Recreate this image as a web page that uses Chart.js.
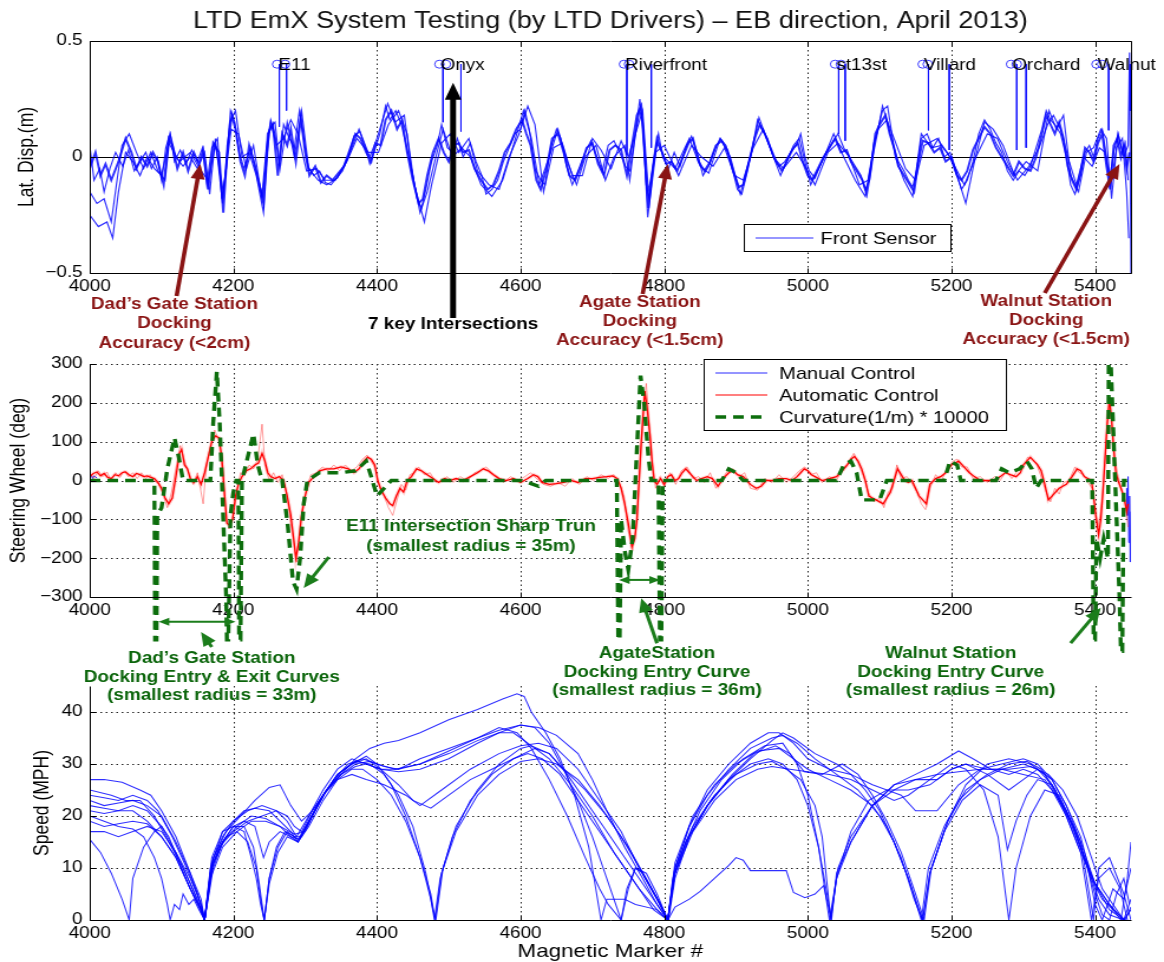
<!DOCTYPE html>
<html><head><meta charset="utf-8">
<script src="https://cdn.jsdelivr.net/npm/chart.js@4.4.1/dist/chart.umd.min.js"></script>
<style>
html,body{margin:0;padding:0;background:#fff;overflow:hidden}
#wrap{position:relative;width:1164px;height:962px;background:#fff}
canvas{position:absolute;left:0;top:0}
</style></head>
<body><div id="wrap">
<canvas id="cBot" width="986" height="962" style="width:1164px;height:962px"></canvas>
<canvas id="cMid" width="986" height="962" style="width:1164px;height:962px"></canvas>
<canvas id="cTop" width="986" height="962" style="width:1164px;height:962px"></canvas>
</div>
<script>
// ---------------- DATA ----------------
const xTicks = [4000,4200,4400,4600,4800,5000,5200,5400];
const latTicks = [-0.5,0,0.5];
const steerTicks = [-300,-200,-100,0,100,200,300];
const speedTicks = [0,10,20,30,40];

// Lateral displacement (front sensor), four overlapping runs
const latRunA = [[4000,-0.05],[4008,0.02],[4015,-0.08],[4022,-0.03],[4030,-0.1],[4040,-0.02],[4050,0.08],[4058,0.02],[4065,-0.05],[4072,0],[4080,-0.04],[4088,0.02],[4095,-0.02],[4103,-0.12],[4110,0.08],[4115,0.05],[4122,-0.05],[4130,0.02],[4137,-0.06],[4145,0.02],[4152,-0.03],[4158,0.03],[4165,-0.14],[4172,0.06],[4180,0.02],[4186,-0.24],[4192,0.05],[4198,0.18],[4203,0.12],[4210,-0.02],[4216,-0.08],[4222,0.05],[4230,-0.04],[4236,-0.12],[4242,-0.2],[4248,0.1],[4255,0.14],[4262,-0.08],[4268,0.1],[4275,0.05],[4280,0.12],[4287,-0.02],[4294,0.17],[4300,0.02],[4306,-0.08],[4314,-0.04],[4322,-0.11],[4330,-0.08],[4338,-0.1],[4346,-0.07],[4354,-0.04],[4362,0.03],[4370,0.1],[4377,0.08],[4385,0.02],[4392,-0.02],[4398,0.06],[4405,0.05],[4412,0.16],[4420,0.2],[4428,0.12],[4435,0.16],[4442,0.02],[4450,-0.1],[4458,-0.2],[4464,-0.18],[4470,-0.08],[4478,0.02],[4486,0.08],[4493,0.02],[4500,-0.02],[4507,0.05],[4514,0.06],[4520,0.02],[4528,0.03],[4536,-0.05],[4545,-0.1],[4554,-0.14],[4562,-0.12],[4570,-0.06],[4578,0.02],[4586,0.06],[4594,0.12],[4602,0.16],[4608,0.1],[4614,0.05],[4622,-0.1],[4628,-0.14],[4636,-0.05],[4644,0.08],[4652,0.1],[4660,0.02],[4668,-0.08],[4676,-0.1],[4684,-0.04],[4692,0.04],[4700,0.06],[4708,-0.03],[4716,-0.08],[4724,0.03],[4732,0.05],[4740,0.03],[4748,-0.08],[4755,0.05],[4762,0.18],[4768,0.22],[4773,0],[4778,-0.22],[4784,-0.05],[4790,0.08],[4796,0.03],[4803,-0.03],[4810,-0.02],[4818,-0.06],[4826,0],[4834,0.06],[4840,0.08],[4848,-0.02],[4856,-0.06],[4864,-0.02],[4872,0.05],[4880,0.07],[4888,0.03],[4896,-0.06],[4904,-0.13],[4910,-0.12],[4918,-0.02],[4926,0.08],[4933,0.14],[4940,0.1],[4948,0.04],[4956,-0.02],[4964,-0.06],[4972,-0.01],[4980,0.04],[4986,0.06],[4993,-0.02],[5000,-0.08],[5006,-0.1],[5014,-0.05],[5022,0],[5030,0.04],[5038,0.08],[5046,0.02],[5054,0.03],[5060,-0.02],[5068,-0.06],[5076,-0.1],[5082,-0.16],[5088,-0.05],[5094,0.1],[5100,0.14],[5108,0.18],[5114,0.1],[5120,0.04],[5126,-0.04],[5134,-0.08],[5142,-0.12],[5148,-0.15],[5154,-0.02],[5160,0.07],[5168,0.06],[5176,0.02],[5184,0.04],[5192,-0.02],[5200,0],[5208,-0.08],[5214,-0.1],[5222,-0.06],[5230,0.03],[5238,0.08],[5246,0.13],[5254,0.1],[5262,0.04],[5270,0],[5278,-0.04],[5286,-0.08],[5294,-0.02],[5302,-0.05],[5310,-0.06],[5318,0],[5326,0.1],[5332,0.18],[5338,0.14],[5344,0.1],[5350,0.15],[5356,0.08],[5362,-0.04],[5368,-0.1],[5374,-0.14],[5380,-0.06],[5386,0.04],[5392,0.02],[5398,-0.02],[5404,0.06],[5410,0.1],[5416,-0.04],[5421,-0.14],[5426,0.05],[5431,0.08],[5436,0],[5440,0.05],[5444,-0.05],[5448,0.02]];
const latRunB = [[4000,-0.15],[4010,-0.2],[4020,-0.18],[4030,-0.28],[4038,-0.1],[4045,0.05],[4055,0.1],[4065,0.02],[4075,-0.05],[4085,0.02],[4095,-0.06],[4105,-0.1],[4112,0.1],[4120,0],[4130,-0.04],[4140,0],[4150,-0.05],[4160,0.02],[4167,-0.16],[4175,0.08],[4185,-0.2],[4195,0.15],[4203,0.2],[4212,0],[4222,0.02],[4232,-0.08],[4242,-0.24],[4250,0.12],[4258,0.15],[4265,-0.05],[4275,0.15],[4285,0],[4295,0.2],[4305,-0.05],[4318,-0.1],[4330,-0.12],[4345,-0.09],[4360,0],[4375,0.12],[4390,0],[4400,0.08],[4415,0.23],[4425,0.15],[4438,0.18],[4448,-0.05],[4460,-0.24],[4470,-0.15],[4482,0],[4492,0.12],[4505,0],[4518,0.04],[4530,0],[4545,-0.12],[4560,-0.17],[4575,-0.1],[4590,0.05],[4604,0.2],[4615,0.08],[4626,-0.12],[4640,0],[4652,0.12],[4665,-0.02],[4678,-0.12],[4690,0],[4705,0.05],[4718,-0.1],[4730,0],[4745,0.05],[4752,-0.1],[4766,0.25],[4771,0.1],[4777,-0.26],[4790,0.06],[4800,0],[4815,-0.05],[4835,0.08],[4850,-0.04],[4862,-0.07],[4878,0.08],[4892,0],[4906,-0.16],[4920,0],[4932,0.17],[4945,0.06],[4962,-0.08],[4980,0.05],[4988,0.08],[5004,-0.12],[5020,-0.02],[5036,0.1],[5050,0],[5066,-0.1],[5080,-0.17],[5092,0.05],[5104,0.2],[5111,0.22],[5122,0],[5134,-0.1],[5146,-0.17],[5158,0.1],[5172,0.04],[5186,0.05],[5198,0],[5212,-0.12],[5220,-0.2],[5232,-0.02],[5246,0.15],[5258,0.12],[5272,0.05],[5288,-0.08],[5304,-0.02],[5320,-0.06],[5336,0.2],[5346,0.12],[5356,0.18],[5366,-0.08],[5377,-0.15],[5388,0.02],[5398,0.04],[5408,0.12],[5416,0.08],[5423,-0.18],[5432,0.1],[5440,0],[5446,0.05],[5448,0.45],[5450,-0.5]];
const latRunC = [[4000,-0.25],[4012,-0.3],[4024,-0.28],[4032,-0.35],[4040,-0.15],[4050,0.02],[4060,-0.02],[4070,-0.08],[4080,0],[4090,-0.05],[4100,-0.08],[4110,0.06],[4125,-0.02],[4140,0.02],[4155,-0.06],[4165,-0.1],[4175,0.05],[4186,-0.15],[4197,0.12],[4207,0.1],[4218,-0.05],[4228,0.05],[4240,-0.18],[4252,0.15],[4260,0.05],[4270,0.08],[4280,0.16],[4290,0.1],[4302,-0.06],[4316,-0.05],[4328,-0.1],[4342,-0.1],[4358,-0.02],[4372,0.08],[4388,0.02],[4402,0.02],[4416,0.14],[4430,0.2],[4442,0.1],[4452,-0.12],[4466,-0.28],[4476,-0.12],[4490,0.06],[4502,0.1],[4514,0.02],[4528,0.08],[4540,-0.06],[4556,-0.12],[4570,-0.14],[4584,0],[4598,0.1],[4610,0.22],[4620,0.14],[4632,-0.15],[4646,0.04],[4658,0.06],[4672,-0.08],[4686,-0.08],[4700,0.08],[4712,0.03],[4726,-0.05],[4740,0.07],[4750,0],[4762,0.12],[4770,0.2],[4778,-0.15],[4788,0.02],[4800,0.05],[4820,-0.08],[4838,0.05],[4852,0],[4868,-0.04],[4884,0.04],[4898,-0.08],[4910,-0.1],[4924,0.04],[4938,0.12],[4952,0],[4966,-0.05],[4984,0.02],[4998,-0.05],[5010,-0.12],[5028,0.02],[5042,0.06],[5058,0],[5072,-0.12],[5084,-0.1],[5098,0.12],[5110,0.16],[5120,0.08],[5136,-0.05],[5150,-0.1],[5162,0.05],[5180,0.08],[5194,0.02],[5208,-0.06],[5218,-0.12],[5234,0],[5250,0.1],[5264,0.08],[5278,-0.02],[5292,-0.1],[5308,-0.04],[5322,0.04],[5334,0.14],[5342,0.18],[5352,0.12],[5364,-0.02],[5374,-0.12],[5384,0],[5396,-0.04],[5406,0.04],[5414,0.02],[5422,-0.12],[5430,0.04],[5438,0.08],[5444,-0.15],[5447,-0.35]];
const latRunD = [[4000,0.05],[4006,-0.1],[4014,-0.05],[4020,-0.15],[4028,-0.05],[4036,0.02],[4046,-0.04],[4054,0.03],[4062,-0.06],[4070,-0.02],[4078,0.02],[4086,-0.05],[4094,0],[4100,-0.1],[4106,0.04],[4112,0.1],[4118,-0.02],[4126,0.03],[4134,-0.03],[4142,0.03],[4150,-0.02],[4157,0.04],[4163,-0.12],[4170,0.04],[4178,0.08],[4184,-0.18],[4190,-0.05],[4196,0.2],[4202,0.15],[4208,0.02],[4215,-0.05],[4224,0.04],[4232,-0.06],[4240,-0.16],[4246,0.04],[4252,0.16],[4258,0.1],[4264,-0.04],[4270,0.14],[4278,0.08],[4285,0.04],[4292,0.2],[4298,0.08],[4304,-0.04],[4312,-0.08],[4320,-0.06],[4328,-0.11],[4336,-0.12],[4344,-0.09],[4352,-0.06],[4360,0],[4368,0.09],[4376,0.11],[4384,0.04],[4390,-0.03],[4396,0.02],[4404,0.1],[4412,0.22],[4418,0.16],[4426,0.2],[4434,0.14],[4440,0.06],[4448,-0.05],[4456,-0.18],[4462,-0.22],[4468,-0.14],[4476,-0.02],[4484,0.05],[4490,0.14],[4498,0.04],[4506,0.02],[4512,0.08],[4520,0],[4530,0.06],[4538,-0.02],[4546,-0.08],[4552,-0.16],[4560,-0.14],[4568,-0.1],[4576,-0.02],[4584,0.04],[4592,0.1],[4600,0.12],[4606,0.2],[4612,0.12],[4620,-0.05],[4628,-0.1],[4634,-0.12],[4642,0.04],[4650,0.12],[4656,0.08],[4664,-0.04],[4672,-0.12],[4680,-0.06],[4690,0.02],[4698,0.07],[4706,0],[4714,-0.06],[4722,0.05],[4730,0.07],[4738,0.02],[4746,-0.04],[4752,-0.06],[4760,0.1],[4766,0.2],[4770,0.15],[4775,-0.12],[4779,-0.18],[4786,0],[4792,0.1],[4798,0],[4806,-0.05],[4814,0.02],[4822,-0.04],[4830,0.04],[4838,0.09],[4846,0.02],[4854,-0.08],[4862,-0.04],[4870,0.03],[4878,0.08],[4886,0.05],[4894,-0.04],[4902,-0.14],[4908,-0.16],[4916,-0.06],[4924,0.06],[4930,0.16],[4936,0.12],[4944,0.08],[4952,0],[4960,-0.04],[4968,-0.02],[4976,0.02],[4984,0.05],[4990,0.1],[4996,0],[5002,-0.06],[5010,-0.09],[5018,-0.03],[5026,0.02],[5034,0.06],[5042,0.1],[5050,0.04],[5058,0],[5066,-0.04],[5074,-0.08],[5080,-0.14],[5086,-0.1],[5092,0.06],[5098,0.12],[5104,0.22],[5110,0.16],[5118,0.06],[5126,-0.02],[5134,-0.06],[5140,-0.1],[5146,-0.13],[5152,-0.05],[5158,0.08],[5166,0.1],[5174,0.04],[5182,0.08],[5190,0],[5198,0.02],[5206,-0.06],[5214,-0.14],[5222,-0.1],[5230,-0.02],[5238,0.1],[5246,0.16],[5254,0.12],[5262,0.06],[5270,0.02],[5278,-0.06],[5286,-0.1],[5294,-0.06],[5302,-0.08],[5310,-0.04],[5318,0.04],[5326,0.12],[5332,0.2],[5338,0.16],[5344,0.14],[5352,0.1],[5360,0],[5366,-0.12],[5372,-0.16],[5380,-0.08],[5386,0.02],[5392,0.05],[5398,0],[5404,0.08],[5410,0.12],[5416,0],[5420,-0.1],[5426,0.02],[5432,0.1],[5438,0.02],[5442,0.06],[5446,-0.1]];

// Stations (top panel)
const stationNames = ["E11","Onyx","Riverfront","st13st","Villard","Orchard","Walnut"];
const stationCircleA = [4261,4487,4744,5038,5160,5283,5402];
const stationCircleB = [4272,4496,4751,5046,5167,5291,5410];
const stationLineA = [4264,4492,4748,5043,5168,5291,5419];
const stationLineAEnd = [0.13,0.15,0.01,0.1,0.115,0.03,0.115];
const stationLineB = [4274,4517,4782,5052,5197,5304,5449];
const stationLineBEnd = [0.2,0.11,0.04,0.07,0.03,0.04,0.2];
const stationLevel = 0.4;

// Steering wheel (middle panel)
const steerAuto = [[4000,10],[4005,18],[4010,22],[4015,12],[4020,18],[4025,8],[4030,5],[4035,15],[4040,12],[4045,20],[4050,22],[4055,14],[4060,10],[4065,18],[4070,15],[4075,10],[4080,12],[4085,8],[4090,5],[4095,-5],[4100,-20],[4105,-45],[4110,-60],[4115,-45],[4120,10],[4125,70],[4128,80],[4132,40],[4136,30],[4140,5],[4145,-5],[4150,10],[4155,-10],[4160,20],[4165,60],[4170,100],[4175,115],[4180,110],[4184,60],[4188,-40],[4191,-110],[4195,-115],[4199,-100],[4203,-40],[4207,-10],[4212,10],[4218,25],[4224,30],[4230,40],[4235,45],[4240,70],[4244,50],[4248,20],[4252,10],[4258,5],[4264,10],[4270,0],[4275,-40],[4280,-90],[4284,-150],[4287,-200],[4291,-160],[4295,-90],[4300,-40],[4305,-5],[4312,10],[4320,25],[4330,30],[4340,30],[4350,35],[4360,30],[4368,20],[4375,30],[4382,50],[4387,60],[4392,55],[4397,40],[4401,0],[4406,-25],[4412,-45],[4418,-60],[4422,-65],[4427,-40],[4432,-20],[4437,-30],[4442,0],[4448,10],[4455,30],[4462,25],[4470,15],[4478,5],[4486,-5],[4494,5],[4502,0],[4510,5],[4520,0],[4530,10],[4540,20],[4548,30],[4555,25],[4562,15],[4570,5],[4580,0],[4590,5],[4600,-5],[4610,5],[4618,15],[4624,10],[4630,-5],[4640,-10],[4650,-8],[4660,-5],[4670,0],[4680,-5],[4690,5],[4700,5],[4710,8],[4720,10],[4728,12],[4735,5],[4740,-20],[4745,-60],[4750,-110],[4755,-170],[4759,-150],[4762,-100],[4765,0],[4768,100],[4771,180],[4773,230],[4776,190],[4780,120],[4783,50],[4786,0],[4790,-10],[4795,5],[4800,-10],[4805,10],[4810,15],[4815,0],[4820,5],[4825,20],[4830,30],[4835,20],[4840,10],[4845,0],[4852,5],[4860,10],[4867,5],[4875,-15],[4882,5],[4890,20],[4896,25],[4902,15],[4910,10],[4920,-10],[4928,-20],[4935,-15],[4942,0],[4950,0],[4960,5],[4970,5],[4978,0],[4985,10],[4990,20],[4995,30],[5000,25],[5005,15],[5010,10],[5020,0],[5030,5],[5040,10],[5048,25],[5055,40],[5060,55],[5065,62],[5070,50],[5075,30],[5080,0],[5085,-40],[5090,-45],[5095,-50],[5100,-55],[5105,-60],[5110,-45],[5115,-30],[5120,0],[5125,30],[5130,15],[5135,0],[5140,-5],[5145,0],[5150,-20],[5155,-40],[5160,-50],[5165,-60],[5170,-10],[5178,5],[5185,10],[5192,20],[5200,40],[5205,45],[5210,50],[5215,40],[5220,30],[5225,20],[5232,10],[5240,0],[5250,0],[5260,0],[5268,10],[5275,20],[5282,15],[5290,10],[5296,20],[5300,40],[5305,50],[5310,60],[5315,50],[5320,40],[5325,25],[5330,-10],[5335,-50],[5340,-40],[5345,-30],[5350,-20],[5355,-15],[5360,-10],[5368,10],[5375,30],[5380,25],[5385,10],[5390,5],[5395,0],[5398,-40],[5401,-90],[5405,-140],[5408,-100],[5411,-30],[5414,60],[5417,150],[5420,210],[5423,160],[5426,80],[5429,20],[5432,0],[5436,-20],[5440,-40],[5444,-80],[5446,-60]];
const steerAuto2 = [[4000,20],[4006,5],[4012,25],[4018,10],[4024,22],[4030,0],[4036,20],[4042,8],[4048,25],[4054,10],[4060,20],[4066,5],[4072,20],[4078,5],[4084,15],[4090,0],[4096,-10],[4102,-35],[4108,-70],[4114,-30],[4120,30],[4126,90],[4132,50],[4138,20],[4144,-10],[4150,20],[4154,-20],[4158,-60],[4162,30],[4168,90],[4174,130],[4180,100],[4186,0],[4190,-100],[4194,-125],[4200,-90],[4205,-30],[4210,20],[4216,15],[4222,40],[4228,30],[4234,55],[4240,145],[4244,40],[4250,0],[4256,20],[4262,-5],[4268,15],[4274,-30],[4280,-110],[4285,-170],[4288,-210],[4292,-130],[4297,-60],[4302,-20],[4308,15],[4316,20],[4324,35],[4332,25],[4340,40],[4348,25],[4356,40],[4364,25],[4372,35],[4380,55],[4386,65],[4392,50],[4398,30],[4404,-20],[4410,-40],[4416,-70],[4422,-90],[4428,-50],[4434,-10],[4440,-25],[4446,15],[4452,20],[4458,35],[4466,15],[4474,20],[4482,-5],[4490,0],[4498,10],[4506,-5],[4516,10],[4526,0],[4536,20],[4544,25],[4552,35],[4560,20],[4568,10],[4576,-5],[4586,10],[4596,0],[4606,10],[4614,20],[4622,5],[4632,-10],[4642,-15],[4652,-5],[4662,-15],[4672,5],[4682,-10],[4692,10],[4702,0],[4712,15],[4722,5],[4730,15],[4738,-10],[4744,-40],[4750,-130],[4756,-180],[4762,-110],[4767,50],[4772,200],[4775,250],[4779,150],[4784,40],[4788,-20],[4794,10],[4800,-15],[4808,20],[4816,-10],[4824,25],[4832,35],[4840,5],[4848,10],[4856,-5],[4864,20],[4872,-20],[4880,0],[4888,25],[4896,30],[4904,10],[4912,20],[4920,-20],[4930,-25],[4940,5],[4950,-5],[4960,15],[4970,-5],[4980,10],[4988,25],[4996,35],[5004,15],[5012,20],[5020,-5],[5030,10],[5040,0],[5048,30],[5056,45],[5064,70],[5070,45],[5078,10],[5084,-30],[5092,-55],[5100,-45],[5106,-70],[5112,-30],[5118,-20],[5124,40],[5130,5],[5138,10],[5146,-10],[5152,-30],[5158,-60],[5164,-75],[5170,-20],[5178,15],[5186,0],[5194,30],[5202,50],[5208,55],[5214,35],[5222,35],[5230,5],[5240,10],[5250,-5],[5260,10],[5268,0],[5276,25],[5284,5],[5292,25],[5300,30],[5306,60],[5312,55],[5318,45],[5324,15],[5332,-30],[5338,-55],[5344,-20],[5350,-35],[5356,-5],[5364,0],[5372,35],[5378,20],[5384,15],[5390,-5],[5396,-20],[5400,-70],[5404,-120],[5408,-80],[5412,0],[5416,120],[5420,190],[5424,130],[5428,50],[5432,10],[5438,-30],[5442,-50],[5446,-120]];
const steerManualStart = [[4000,8],[4002,14],[4004,5],[4006,12],[4008,10],[4010,6]];
const steerManualEnd = [[5444,-20],[5445,-90],[5446,10],[5447,-160],[5448,-40],[5449,-210],[5450,-80]];
const curvature = [[4000,0],[4090,0],[4091,-410],[4093,-410],[4094,-90],[4100,-70],[4108,30],[4118,110],[4124,60],[4130,0],[4168,0],[4172,150],[4177,280],[4181,150],[4186,-100],[4190,-300],[4191,-410],[4193,-410],[4196,-90],[4200,-30],[4204,0],[4207,0],[4208,-410],[4210,-410],[4212,0],[4220,60],[4228,120],[4234,40],[4240,0],[4268,0],[4276,-120],[4283,-260],[4288,-280],[4293,-200],[4298,-60],[4303,0],[4320,20],[4350,20],[4370,25],[4385,50],[4392,10],[4400,-40],[4410,-20],[4420,0],[4600,0],[4610,-5],[4625,-15],[4635,0],[4734,0],[4736,-410],[4738,-410],[4740,-100],[4745,-180],[4750,-230],[4756,-150],[4762,80],[4767,270],[4772,200],[4778,60],[4782,0],[4792,0],[4794,-410],[4796,-410],[4798,0],[4880,0],[4890,30],[4900,20],[4910,0],[5040,0],[5050,40],[5060,50],[5068,20],[5075,-50],[5100,-50],[5110,0],[5190,0],[5198,50],[5208,40],[5213,0],[5262,0],[5270,30],[5280,20],[5295,30],[5305,50],[5312,30],[5318,-20],[5325,0],[5360,0],[5396,0],[5398,-410],[5400,-410],[5402,-150],[5407,-200],[5412,-150],[5418,-200],[5419,300],[5422,300],[5428,0],[5434,-300],[5436,-440],[5438,-440],[5440,0],[5450,0]];

// Speed (bottom panel), ten runs
const speedRun1 = [[4000,27],[4020,27],[4045,26.5],[4070,25],[4085,24],[4100,21],[4120,16],[4140,9],[4155,3],[4160,0],[4168,9],[4180,14],[4200,17],[4220,19],[4240,20],[4260,21],[4275,20],[4285,18],[4295,17],[4310,21],[4330,25],[4350,28],[4370,31],[4390,33],[4410,34],[4430,34.5],[4460,36],[4500,38.5],[4540,40.5],[4575,42.5],[4595,43.5],[4605,43],[4615,40],[4635,36],[4655,31],[4675,24],[4695,14],[4712,0],[4720,4],[4745,4],[4760,3],[4790,2],[4805,0],[4815,9],[4830,15],[4850,21],[4880,27],[4910,31],[4940,33.5],[4965,34],[4985,30],[5000,24],[5015,14],[5030,0],[5040,8],[5060,15],[5090,22],[5120,26],[5150,27],[5180,27],[5200,29],[5220,30],[5250,28],[5280,25],[5300,27],[5320,29],[5340,27],[5360,22],[5380,15],[5400,7],[5420,2],[5440,0],[5450,4]];
const speedRun2 = [[4000,25],[4030,24],[4050,23],[4070,23],[4090,20],[4110,15],[4130,10],[4150,4],[4160,0],[4170,11],[4185,17],[4200,19],[4215,21],[4230,21.5],[4250,21],[4265,19],[4280,17],[4290,15],[4305,19],[4325,24],[4345,28],[4365,30],[4385,31.5],[4400,30],[4420,26],[4440,20],[4460,12],[4475,4],[4480,0],[4488,8],[4505,16],[4530,23],[4560,28],[4590,31],[4620,33],[4640,32],[4660,29],[4690,25],[4720,20],[4750,14],[4775,8],[4795,3],[4805,0],[4812,8],[4830,15],[4860,22],[4890,27],[4920,31],[4950,34.5],[4965,36],[4980,35],[5010,32],[5040,30],[5060,28],[5080,25],[5100,21],[5120,15],[5140,8],[5158,0],[5168,10],[5190,18],[5210,23],[5240,27],[5270,29],[5300,30],[5320,29],[5340,26],[5360,20],[5380,13],[5400,7],[5420,3],[5440,0]];
const speedRun3 = [[4000,15.5],[4015,13],[4030,9],[4045,4],[4055,0],[4060,8],[4075,14],[4090,17],[4100,18],[4110,16],[4125,11],[4140,6],[4155,2],[4160,0],[4170,12],[4185,17],[4200,18],[4215,19],[4230,18],[4242,12],[4250,15],[4265,17],[4280,16],[4290,15],[4305,18],[4325,23],[4345,27],[4365,29],[4380,29],[4400,27],[4420,24],[4440,19],[4460,12],[4475,5],[4481,0],[4490,9],[4510,17],[4540,24],[4570,28],[4600,30.5],[4625,31],[4650,30],[4680,27],[4710,22],[4740,16],[4770,9],[4795,3],[4805,0],[4815,10],[4840,18],[4870,24],[4900,28],[4930,30],[4950,30.5],[4970,29],[4990,27],[5010,22],[5020,16],[5032,0],[5042,10],[5060,16],[5090,22],[5120,25],[5150,27],[5180,28],[5210,28.5],[5240,29],[5270,30],[5300,31],[5320,30],[5340,27],[5360,22],[5380,16],[5395,8],[5410,4],[5425,2],[5442,0],[5450,2.5]];
const speedRun4 = [[4000,20],[4020,19],[4040,18],[4060,17.5],[4075,16],[4090,12],[4100,8],[4108,3],[4112,0],[4118,3],[4125,2],[4130,5],[4138,3],[4145,4],[4152,2],[4160,0],[4172,10],[4185,15],[4200,18],[4215,17],[4225,12],[4232,8],[4238,3],[4243,0],[4250,8],[4260,14],[4272,17],[4285,16],[4295,16],[4310,20],[4330,25],[4350,28],[4370,30],[4390,30.5],[4410,29.5],[4430,29],[4460,30],[4500,32.5],[4540,35],[4570,36.5],[4600,37.5],[4620,37],[4640,34],[4660,29],[4680,23],[4700,16],[4720,8],[4740,0],[4750,6],[4760,10],[4775,9],[4790,5],[4805,0],[4815,11],[4840,20],[4870,26],[4900,30],[4930,32.5],[4960,33],[4980,31],[5000,29],[5030,27],[5060,25],[5090,22],[5110,18],[5130,12],[5148,4],[5160,0],[5170,9],[5190,17],[5215,23],[5240,26],[5265,24],[5278,13.5],[5290,19],[5305,24],[5320,27],[5340,26],[5360,21],[5380,14],[5400,7],[5420,3],[5436,0],[5445,8],[5450,15]];
const speedRun5 = [[4000,17],[4020,17],[4040,16],[4060,17],[4080,18],[4100,17],[4120,13],[4140,8],[4155,3],[4160,0],[4172,11],[4190,16],[4205,17],[4220,15],[4232,10],[4238,4],[4243,0],[4250,7],[4262,13],[4275,16],[4290,15],[4305,19],[4325,24],[4345,28],[4365,30],[4385,31],[4405,29],[4430,26],[4450,23],[4475,21.5],[4500,24],[4530,27],[4560,29],[4590,31],[4610,32],[4630,31],[4655,28],[4680,23],[4710,17],[4740,11],[4765,6],[4790,2],[4805,0],[4815,2.5],[4835,4],[4850,5.5],[4870,8],[4890,10.5],[4900,12],[4910,11.5],[4920,9.5],[4945,9.5],[4970,9.5],[4980,5.3],[4996,4.3],[5010,5],[5022,6.6],[5032,0.5],[5040,8],[5060,17],[5085,23],[5110,25],[5130,24],[5150,21],[5180,21],[5210,26],[5240,29],[5270,29],[5300,28],[5330,27],[5360,21],[5380,15],[5398,0],[5405,10],[5420,12],[5440,5],[5450,0]];
const speedRun6 = [[4000,22],[4020,21.5],[4040,21],[4060,22],[4080,21],[4100,18],[4120,13],[4140,7],[4155,2],[4160,0],[4168,8],[4185,14],[4205,17],[4225,19],[4245,19],[4265,18],[4280,16],[4292,15.5],[4310,20],[4330,25],[4350,28.5],[4370,30.5],[4390,30],[4410,28],[4430,24],[4450,18],[4468,9],[4478,2],[4482,0],[4492,10],[4510,18],[4540,25],[4570,30],[4600,33],[4615,33.5],[4640,32],[4665,28],[4690,23],[4720,17],[4750,11],[4780,5],[4800,1],[4806,0],[4815,8],[4835,16],[4865,23],[4895,28],[4925,32],[4955,33.5],[4975,32],[4995,28.5],[5020,28],[5048,30],[5070,28],[5090,24],[5110,19],[5130,13],[5150,5],[5162,0],[5172,10],[5195,19],[5220,25],[5250,28],[5280,30],[5305,30.5],[5325,29],[5345,25],[5365,19],[5385,12],[5400,5],[5410,1],[5420,0],[5430,5],[5440,8],[5448,3]];
const speedRun7 = [[4000,24],[4020,23.5],[4040,23],[4060,24],[4080,23],[4095,21],[4115,16],[4135,10],[4150,5],[4160,0],[4170,11],[4185,16],[4200,19],[4220,21],[4240,22],[4260,21],[4275,19],[4288,16],[4305,20],[4325,25],[4345,29],[4365,31],[4385,30],[4405,29],[4430,28.5],[4460,29],[4500,31],[4540,34],[4570,36],[4600,37.5],[4625,37],[4650,35.5],[4680,32],[4700,27],[4720,21],[4745,14],[4770,8],[4790,3],[4805,0],[4815,10],[4835,18],[4860,24],[4890,29],[4920,33],[4950,35],[4965,35.5],[4985,34],[5010,31],[5040,28],[5070,25],[5100,20],[5120,15],[5140,8],[5155,2],[5160,0],[5170,9],[5195,19],[5220,26],[5250,30],[5280,31],[5310,30],[5330,28],[5350,23],[5370,18],[5390,10],[5405,4],[5420,1],[5440,0]];
const speedRun8 = [[4000,21],[4020,20.5],[4040,21],[4060,21],[4080,19],[4100,16],[4120,12],[4140,6],[4155,2],[4160,0],[4172,12],[4190,17],[4210,20],[4230,23],[4250,25.5],[4265,26],[4280,22],[4295,19],[4310,21],[4330,25],[4350,28],[4370,29.5],[4385,30],[4405,29],[4430,29],[4460,31],[4500,33],[4540,35],[4570,37],[4595,36],[4615,33],[4640,27],[4665,20],[4690,12],[4710,6],[4722,3],[4740,0],[4748,6],[4760,10],[4770,9],[4790,4],[4805,0],[4815,9],[4835,16],[4860,22],[4890,27],[4920,30],[4945,31],[4965,30],[4985,27],[5000,22],[5015,14],[5028,4],[5033,0],[5040,9],[5060,15],[5090,22],[5120,26],[5150,28],[5180,30],[5210,32.5],[5230,31],[5255,29],[5280,28],[5300,29],[5320,28],[5340,25],[5360,20],[5380,13],[5395,0],[5405,8],[5420,10],[5435,6],[5445,0]];
const speedRun9 = [[4000,19],[4020,18],[4040,18.5],[4060,19],[4080,18.5],[4100,16],[4120,12],[4140,6],[4160,0],[4170,10],[4185,15],[4200,18],[4215,18],[4228,14],[4236,7],[4243,0],[4250,8],[4262,14],[4275,17],[4290,15.5],[4305,19],[4325,24],[4345,27],[4365,28],[4385,27],[4410,26],[4440,24],[4460,22],[4490,25],[4530,29],[4570,32],[4600,33.5],[4625,34],[4650,33],[4680,29],[4710,23],[4740,17],[4765,10],[4790,4],[4805,0],[4815,9],[4840,17],[4870,23],[4900,27],[4930,29],[4950,29.5],[4975,29],[5000,28.5],[5030,28],[5060,27],[5090,25],[5120,23],[5140,24],[5170,27],[5200,30],[5220,29],[5245,25],[5265,16],[5280,0],[5290,10],[5310,20],[5330,25],[5350,24],[5370,18],[5390,10],[5400,3],[5410,0],[5425,6],[5440,4],[5450,10]];
const speedRun10 = [[4000,23],[4020,22],[4040,22.5],[4060,23],[4080,22],[4100,20],[4120,15],[4140,9],[4155,4],[4160,0],[4168,10],[4185,15],[4205,18],[4225,20],[4245,19.5],[4265,18],[4285,16.5],[4300,17],[4320,23],[4340,27],[4360,30],[4380,31],[4400,30],[4425,29],[4460,30],[4500,32],[4540,34.5],[4570,36],[4590,36],[4610,34],[4640,31],[4670,26],[4700,20],[4730,13],[4760,7],[4785,2],[4805,0],[4815,10],[4835,18],[4860,25],[4890,30],[4920,34],[4945,36],[4960,36],[4980,34],[5000,31],[5030,29],[5060,28],[5090,26],[5110,25],[5140,25],[5170,26],[5200,29],[5220,30],[5250,29],[5280,29],[5310,29.5],[5335,28],[5355,25],[5375,20],[5395,12],[5410,6],[5425,3],[5440,0],[5450,2]];

// Texts
const mainTitle = "LTD EmX System Testing (by LTD Drivers) \u2013 EB direction, April 2013)";
const topNotes = [
  {lines:["Dad\u2019s Gate Station","Docking","Accuracy (<2cm)"], x:4118, ys:[305,324,344], color:"#8a1414"},
  {lines:["7 key Intersections"], x:4506, ys:[325], color:"#000000"},
  {lines:["Agate Station","Docking","Accuracy (<1.5cm)"], x:4766, ys:[303,322,341], color:"#8a1414"},
  {lines:["Walnut Station","Docking","Accuracy (<1.5cm)"], x:5332, ys:[302,321,340], color:"#8a1414"}
];
const topArrows = [
  {tail:[4121,296], tip:[4154,-0.03], color:"#8a1414", w:3.6, hl:15, hw:6},
  {tail:[4506,318], tip:[4506,0.32], color:"#000000", w:5, hl:17, hw:7},
  {tail:[4770,294], tip:[4805,-0.03], color:"#8a1414", w:3.6, hl:15, hw:6},
  {tail:[5330,293], tip:[5434,-0.03], color:"#8a1414", w:3.6, hl:15, hw:6}
];
const midNotes = [
  {lines:["E11 Intersection Sharp Trun","(smallest radius = 35m)"], x:4531, ys:[527,547]},
  {lines:["Dad\u2019s Gate Station","Docking Entry & Exit Curves","(smallest radius = 33m)"], x:4170, ys:[659,678,696]},
  {lines:["AgateStation","Docking Entry Curve","(smallest radius = 36m)"], x:4790, ys:[654,673,691]},
  {lines:["Walnut Station","Docking Entry Curve","(smallest radius = 26m)"], x:5199, ys:[654,673,691]}
];
const midArrows = [
  {tail:[4333,-197], tip:[4298,-277], both:false},
  {tail:[4170,-429], tip:[4155,-390], both:false},
  {tail:[4790,-419], tip:[4768,-303], both:false},
  {tail:[5366,-419], tip:[5408,-328], both:false},
  {tail:[4096,-364], tip:[4203,-364], both:true},
  {tail:[4737,-256], tip:[4794,-256], both:true}
];

// ---------------- HELPERS ----------------
const FONT = "'Liberation Sans', Arial, Helvetica, sans-serif";
Chart.defaults.font.family = FONT;
Chart.defaults.color = '#000';
const PL = 76, PR = 28, W = 986, H = 962;
const GREEN_TXT = '#0b650b', GREEN_LN = '#0d6e0d';
const BLUE = 'rgba(0,0,255,0.82)';

function pts(arr){ return arr.map(p => ({x:p[0], y:p[1]})); }
function fmtNum(v){ if (v === 0) return '0'; return v < 0 ? '\u2212' + String(Math.abs(v)) : String(v); }

function xScale(){
  return {type:'linear', min:4000, max:5450,
    ticks:{stepSize:200, includeBounds:false, autoSkip:false, maxRotation:0, padding:4, color:'#000', font:{size:16}, callback:v=>String(v)},
    grid:{display:false, drawTicks:false}, border:{display:false},
    afterFit(s){ s.height = 30; }};
}
function yScale(min, max, step){
  return {type:'linear', min:min, max:max,
    ticks:{stepSize:step, includeBounds:false, autoSkip:false, padding:6, color:'#000', font:{size:16}, callback:v=>fmtNum(v)},
    grid:{display:false, drawTicks:false}, border:{display:false},
    afterFit(s){ s.width = PL; }};
}
function drawGrid(chart, xs, ys){
  const ctx = chart.ctx, a = chart.chartArea, sx = chart.scales.x, sy = chart.scales.y;
  ctx.save(); ctx.strokeStyle = '#222'; ctx.lineWidth = 1; ctx.setLineDash([1.5,3]);
  xs.forEach(v => { const p = Math.round(sx.getPixelForValue(v)) + 0.5; ctx.beginPath(); ctx.moveTo(p, a.top); ctx.lineTo(p, a.bottom); ctx.stroke(); });
  ys.forEach(v => { const p = Math.round(sy.getPixelForValue(v)) + 0.5; ctx.beginPath(); ctx.moveTo(a.left, p); ctx.lineTo(a.right, p); ctx.stroke(); });
  ctx.restore();
}
function drawFrame(chart, box, xs, ys){
  const ctx = chart.ctx, a = chart.chartArea, sx = chart.scales.x, sy = chart.scales.y;
  ctx.save(); ctx.strokeStyle = '#000'; ctx.lineWidth = 1; ctx.setLineDash([]);
  const L = Math.round(a.left) + 0.5, B = Math.round(a.bottom) + 0.5, T = Math.round(a.top) + 0.5, R = Math.round(a.right) + 0.5;
  ctx.beginPath(); ctx.moveTo(L, T); ctx.lineTo(L, B); ctx.lineTo(R, B);
  if (box) { ctx.lineTo(R, T); ctx.lineTo(L, T); }
  ctx.stroke();
  const tl = 5;
  xs.forEach(v => { const p = Math.round(sx.getPixelForValue(v)) + 0.5; ctx.beginPath(); ctx.moveTo(p, B); ctx.lineTo(p, B - tl); if (box) { ctx.moveTo(p, T); ctx.lineTo(p, T + tl); } ctx.stroke(); });
  ys.forEach(v => { const p = Math.round(sy.getPixelForValue(v)) + 0.5; ctx.beginPath(); ctx.moveTo(L, p); ctx.lineTo(L + tl, p); if (box) { ctx.moveTo(R, p); ctx.lineTo(R - tl, p); } ctx.stroke(); });
  ctx.restore();
}
function arrow(ctx, x1, y1, x2, y2, color, w, hl, hw, both){
  const a = Math.atan2(y2 - y1, x2 - x1), c = Math.cos(a), s = Math.sin(a);
  ctx.save(); ctx.strokeStyle = color; ctx.fillStyle = color; ctx.lineWidth = w; ctx.setLineDash([]);
  const head = (x, y, cc, ss) => { ctx.beginPath(); ctx.moveTo(x, y); ctx.lineTo(x - hl*cc + hw*ss, y - hl*ss - hw*cc); ctx.lineTo(x - hl*cc - hw*ss, y - hl*ss + hw*cc); ctx.closePath(); ctx.fill(); };
  let sx1 = x1, sy1 = y1; const ex = x2 - hl*0.8*c, ey = y2 - hl*0.8*s;
  if (both) { sx1 = x1 + hl*0.8*c; sy1 = y1 + hl*0.8*s; }
  ctx.beginPath(); ctx.moveTo(sx1, sy1); ctx.lineTo(ex, ey); ctx.stroke();
  head(x2, y2, c, s); if (both) head(x1, y1, -c, -s);
  ctx.restore();
}
function vText(ctx, text, x, y, size){
  ctx.save(); ctx.translate(x, y); ctx.rotate(-Math.PI/2); ctx.font = size + 'px ' + FONT; ctx.fillStyle = '#000';
  ctx.textAlign = 'center'; ctx.textBaseline = 'middle'; ctx.fillText(text, 0, 0); ctx.restore();
}
function baseOptions(padTop, padBottom, ymin, ymax, ystep){
  return {responsive:false, animation:false, devicePixelRatio:1, events:[],
    layout:{padding:{left:0, right:PR, top:padTop, bottom:padBottom}},
    plugins:{legend:{display:false}, tooltip:{enabled:false}, title:{display:false}},
    elements:{point:{radius:0}, line:{tension:0}},
    scales:{x:xScale(), y:yScale(ymin, ymax, ystep)}};
}
const gridX = xTicks.filter(v => v !== 4000);

// ---------------- TOP CHART ----------------
const topSets = [];
[latRunA, latRunB, latRunC, latRunD].forEach((r, i) => topSets.push({data:pts(r), showLine:true, borderColor:BLUE, borderWidth: i === 0 ? 1.9 : 1.15, pointRadius:0}));
stationNames.forEach((n, i) => {
  topSets.push({data:[{x:stationLineA[i], y:stationLevel},{x:stationLineA[i], y:stationLineAEnd[i]}], showLine:true, borderColor:'#1010ff', borderWidth:1, pointRadius:0});
  topSets.push({data:[{x:stationLineB[i], y:stationLevel},{x:stationLineB[i], y:stationLineBEnd[i]}], showLine:true, borderColor:'#1010ff', borderWidth:1, pointRadius:0});
});
const circlePts = [];
stationNames.forEach((n, i) => { circlePts.push({x:stationCircleA[i], y:stationLevel}); circlePts.push({x:stationCircleB[i], y:stationLevel}); });
topSets.push({data:circlePts, showLine:false, pointRadius:4, pointStyle:'circle', borderColor:'#3a3aff', backgroundColor:'rgba(0,0,0,0)', borderWidth:1});

const topOpts = baseOptions(41, H - 273 - 30, -0.5, 0.5, 0.5);
new Chart(document.getElementById('cTop'), {type:'scatter', data:{datasets:topSets}, options:topOpts,
  plugins:[{id:'topDeco',
    beforeDatasetsDraw(chart){
      drawGrid(chart, gridX, []);
      const ctx = chart.ctx, a = chart.chartArea, y0 = Math.round(chart.scales.y.getPixelForValue(0)) + 0.5;
      ctx.save(); ctx.strokeStyle = '#000'; ctx.lineWidth = 1.2; ctx.beginPath(); ctx.moveTo(a.left, y0); ctx.lineTo(a.right, y0); ctx.stroke(); ctx.restore();
    },
    afterDraw(chart){
      const ctx = chart.ctx, a = chart.chartArea, sx = chart.scales.x, sy = chart.scales.y;
      drawFrame(chart, true, xTicks, latTicks);
      ctx.save(); ctx.font = '23px ' + FONT; ctx.fillStyle = '#111'; ctx.textAlign = 'center'; ctx.textBaseline = 'middle';
      ctx.fillText(mainTitle, (a.left + a.right)/2, 22); ctx.restore();
      vText(ctx, 'Lat. Disp.(m)', 23, (a.top + a.bottom)/2, 17.5);
      ctx.save(); ctx.font = '16px ' + FONT; ctx.fillStyle = '#000'; ctx.textAlign = 'left'; ctx.textBaseline = 'middle';
      stationNames.forEach((n, i) => ctx.fillText(n, sx.getPixelForValue(stationCircleA[i]) + 1, sy.getPixelForValue(stationLevel) + 1));
      ctx.restore();
      const lx1 = 630, lx2 = 805, ly1 = 224, ly2 = 251;
      ctx.save(); ctx.fillStyle = '#fff'; ctx.fillRect(lx1, ly1, lx2 - lx1, ly2 - ly1);
      ctx.strokeStyle = '#000'; ctx.lineWidth = 1; ctx.strokeRect(lx1 + 0.5, ly1 + 0.5, lx2 - lx1, ly2 - ly1);
      ctx.strokeStyle = BLUE; ctx.lineWidth = 1.2; ctx.beginPath(); ctx.moveTo(640, 238); ctx.lineTo(689, 238); ctx.stroke();
      ctx.font = '17px ' + FONT; ctx.fillStyle = '#000'; ctx.textBaseline = 'middle'; ctx.fillText('Front Sensor', 695, 239);
      ctx.restore();
      topArrows.forEach(ar => arrow(ctx, sx.getPixelForValue(ar.tail[0]), ar.tail[1], sx.getPixelForValue(ar.tip[0]), sy.getPixelForValue(ar.tip[1]), ar.color, ar.w, ar.hl, ar.hw, false));
      ctx.save(); ctx.font = 'bold 16px ' + FONT; ctx.textAlign = 'center'; ctx.textBaseline = 'middle';
      topNotes.forEach(nt => { ctx.fillStyle = nt.color; nt.lines.forEach((l, k) => ctx.fillText(l, sx.getPixelForValue(nt.x), nt.ys[k])); });
      ctx.restore();
    }}]});

// ---------------- MIDDLE CHART ----------------
const midSets = [
  {data:pts(curvature), showLine:true, borderColor:GREEN_LN, borderWidth:3.4, borderDash:[9,6], pointRadius:0, clip:false},
  {data:pts(steerAuto), showLine:true, borderColor:'#ff0000', borderWidth:1.3, pointRadius:0},
  {data:pts(steerAuto2), showLine:true, borderColor:'rgba(255,40,40,0.45)', borderWidth:1, pointRadius:0},
  {data:pts(steerAuto), showLine:true, borderColor:'rgba(255,60,60,0.2)', borderWidth:3.5, pointRadius:0},
  {data:pts(steerManualStart), showLine:true, borderColor:'#2a2aff', borderWidth:1, pointRadius:0},
  {data:pts(steerManualEnd), showLine:true, borderColor:'#2a2aff', borderWidth:1, pointRadius:0}
];
const midOpts = baseOptions(364, H - 597 - 30, -300, 300, 100);
new Chart(document.getElementById('cMid'), {type:'scatter', data:{datasets:midSets}, options:midOpts,
  plugins:[{id:'midDeco',
    beforeDatasetsDraw(chart){ drawGrid(chart, gridX, steerTicks.filter(v => v !== -300)); },
    afterDraw(chart){
      const ctx = chart.ctx, a = chart.chartArea, sx = chart.scales.x, sy = chart.scales.y;
      drawFrame(chart, false, xTicks, steerTicks);
      vText(ctx, 'Steering Wheel (deg)', 16, (a.top + a.bottom)/2, 17.5);
      const lx1 = 596, lx2 = 852, ly1 = 359, ly2 = 430;
      ctx.save(); ctx.fillStyle = '#fff'; ctx.fillRect(lx1, ly1, lx2 - lx1, ly2 - ly1);
      ctx.strokeStyle = '#000'; ctx.lineWidth = 1; ctx.strokeRect(lx1 + 0.5, ly1 + 0.5, lx2 - lx1, ly2 - ly1);
      const items = [['Manual Control', '#2a2aff', 1, []], ['Automatic Control', '#ff0000', 1.2, []], ['Curvature(1/m) * 10000', GREEN_LN, 3.4, [9,6]]];
      const yy = [373, 395, 417];
      items.forEach((it, k) => {
        ctx.strokeStyle = it[1]; ctx.lineWidth = it[2]; ctx.setLineDash(it[3]);
        ctx.beginPath(); ctx.moveTo(606, yy[k]); ctx.lineTo(650, yy[k]); ctx.stroke(); ctx.setLineDash([]);
        ctx.font = '17px ' + FONT; ctx.fillStyle = '#000'; ctx.textAlign = 'left'; ctx.textBaseline = 'middle';
        ctx.fillText(it[0], 660, yy[k] + 1);
      });
      ctx.restore();
      midArrows.forEach(ar => {
        const x1 = sx.getPixelForValue(ar.tail[0]), y1 = sy.getPixelForValue(ar.tail[1]);
        const x2 = sx.getPixelForValue(ar.tip[0]), y2 = sy.getPixelForValue(ar.tip[1]);
        if (ar.both) arrow(ctx, x1, y1, x2, y2, '#1b7d1b', 2, 9, 4, true);
        else arrow(ctx, x1, y1, x2, y2, '#1b7d1b', 3, 14, 6, false);
      });
      ctx.save(); ctx.font = 'bold 16px ' + FONT; ctx.textAlign = 'center'; ctx.textBaseline = 'middle'; ctx.fillStyle = GREEN_TXT;
      midNotes.forEach(nt => nt.lines.forEach((l, k) => ctx.fillText(l, sx.getPixelForValue(nt.x), nt.ys[k])));
      ctx.restore();
    }}]});

// ---------------- BOTTOM CHART ----------------
const speedRuns = [speedRun1, speedRun2, speedRun3, speedRun4, speedRun5, speedRun6, speedRun7, speedRun8, speedRun9, speedRun10];
const botSets = speedRuns.map(r => ({data:pts(r), showLine:true, borderColor:BLUE, borderWidth:1.05, pointRadius:0}));
const botOpts = baseOptions(686, H - 920 - 30, 0, 45, 10);
new Chart(document.getElementById('cBot'), {type:'scatter', data:{datasets:botSets}, options:botOpts,
  plugins:[{id:'botDeco',
    beforeDatasetsDraw(chart){ drawGrid(chart, gridX, speedTicks.filter(v => v !== 0)); },
    afterDraw(chart){
      const ctx = chart.ctx, a = chart.chartArea;
      drawFrame(chart, false, xTicks, speedTicks);
      vText(ctx, 'Speed (MPH)', 36, (a.top + a.bottom)/2, 17.5);
      ctx.save(); ctx.font = '19px ' + FONT; ctx.fillStyle = '#000'; ctx.textAlign = 'center'; ctx.textBaseline = 'middle';
      ctx.fillText('Magnetic Marker #', (a.left + a.right)/2, 952); ctx.restore();
    }}]});
</script>
</body></html>
